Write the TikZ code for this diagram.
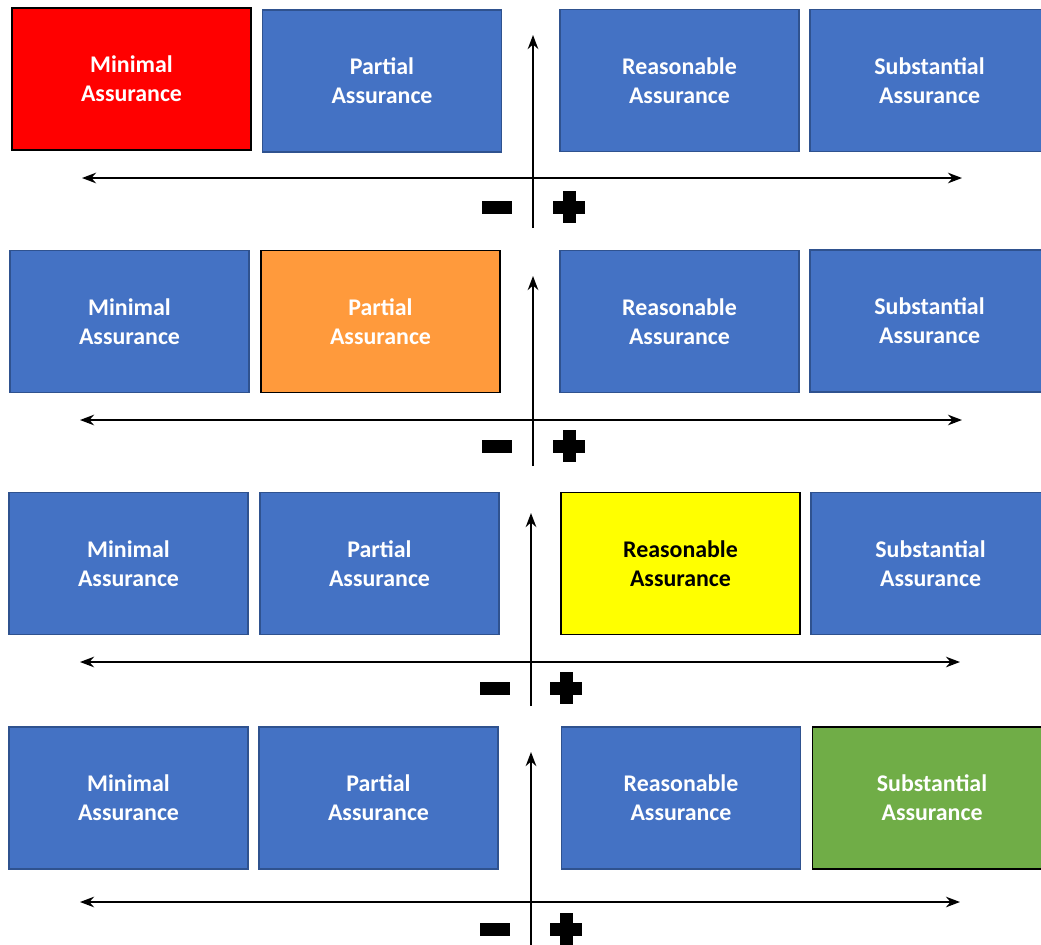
\documentclass[tikz,border=0pt]{standalone}
\usepackage{fontspec}
\setsansfont{Carlito}
\usepackage{tikz}
\usetikzlibrary{calc, arrows.meta}

\definecolor{boxblue}{HTML}{4472C4}
\definecolor{boxedge}{HTML}{2F528F}
\definecolor{lowred}{HTML}{FF0000}
\definecolor{partorange}{HTML}{FF9A3C}
\definecolor{reasyellow}{HTML}{FFFF00}
\definecolor{subgreen}{HTML}{70AD47}

\tikzset{
  level/.style={rectangle, minimum width=4.78cm, minimum height=2.84cm,
    align=center, text=white, line width=0.9pt, draw=boxedge, fill=boxblue,
    font=\sffamily\bfseries\fontsize{13.6}{16.4}\selectfont},
  picked/.style={level, draw=black, fill=#1},
  axis/.style={line width=1.2pt, >={Stealth[length=8pt, width=6pt]}}
}

\begin{document}
\begin{tikzpicture}[x=0.02cm, y=-0.02cm]

\clip (0,0) rectangle (1041,944);
\fill[white] (0,0) rectangle (1041,944);

% Row 1: minimal assurance marked
\node[picked=lowred] (min1) at (131.5,79) {Minimal\\Assurance};
\node[level] (par1) at (382,81) {Partial\\Assurance};
\node[level] (rea1) at (679.5,80.5) {Reasonable\\Assurance};
\node[level] (sub1) at (929.5,80.5) {Substantial\\Assurance};

% Row 2: partial assurance marked
\node[level] (min2) at (129.5,321.5) {Minimal\\Assurance};
\node[picked=partorange] (par2) at (380.5,321.5) {Partial\\Assurance};
\node[level] (rea2) at (679.5,321.5) {Reasonable\\Assurance};
\node[level] (sub2) at (929.5,321) {Substantial\\Assurance};

% Row 3: reasonable assurance marked
\node[level] (min3) at (128.5,563.5) {Minimal\\Assurance};
\node[level] (par3) at (379.5,563.5) {Partial\\Assurance};
\node[picked=reasyellow, text=black] (rea3) at (680.5,563.5) {Reasonable\\Assurance};
\node[level] (sub3) at (930.5,563.5) {Substantial\\Assurance};

% Row 4: substantial assurance marked
\node[level] (min4) at (128.5,798) {Minimal\\Assurance};
\node[level] (par4) at (378.5,798) {Partial\\Assurance};
\node[level] (rea4) at (681,798) {Reasonable\\Assurance};
\node[picked=subgreen] (sub4) at (932,798) {Substantial\\Assurance};

% Axis end points
\coordinate (L1) at (82,178);  \coordinate (R1) at (962,178);
\coordinate (B1) at (533,228); \coordinate (T1) at (533,35);
\coordinate (L2) at (80,420);  \coordinate (R2) at (962,420);
\coordinate (B2) at (533,466); \coordinate (T2) at (533,276);
\coordinate (L3) at (80,662);  \coordinate (R3) at (960,662);
\coordinate (B3) at (531,706); \coordinate (T3) at (531,513);
\coordinate (L4) at (80,902);  \coordinate (R4) at (960,902);
\coordinate (B4) at (531,946); \coordinate (T4) at (531,752);

% Draw axes
\draw[axis, <->] (L1) -- (R1);
\draw[axis, ->] (B1) -- (T1);
\draw[axis, <->] (L2) -- (R2);
\draw[axis, ->] (B2) -- (T2);
\draw[axis, <->] (L3) -- (R3);
\draw[axis, ->] (B3) -- (T3);
\draw[axis, <->] (L4) -- (R4);
\draw[axis, ->] (B4) -- (T4);

% Minus and plus signs
\coordinate (m1) at (497,207); \coordinate (p1) at (569,207);
\coordinate (m2) at (497,446); \coordinate (p2) at (569,446);
\coordinate (m3) at (495,688); \coordinate (p3) at (566,688);
\coordinate (m4) at (495,929); \coordinate (p4) at (566,929);

\foreach \i in {1,2,3,4}{
  \fill ($(m\i)+(-15,-6.5)$) rectangle ($(m\i)+(15,6.5)$);
  \fill ($(p\i)+(-16,-6.5)$) rectangle ($(p\i)+(16,6.5)$);
  \fill ($(p\i)+(-6.5,-16)$) rectangle ($(p\i)+(6.5,16)$);
}

\end{tikzpicture}
\end{document}
